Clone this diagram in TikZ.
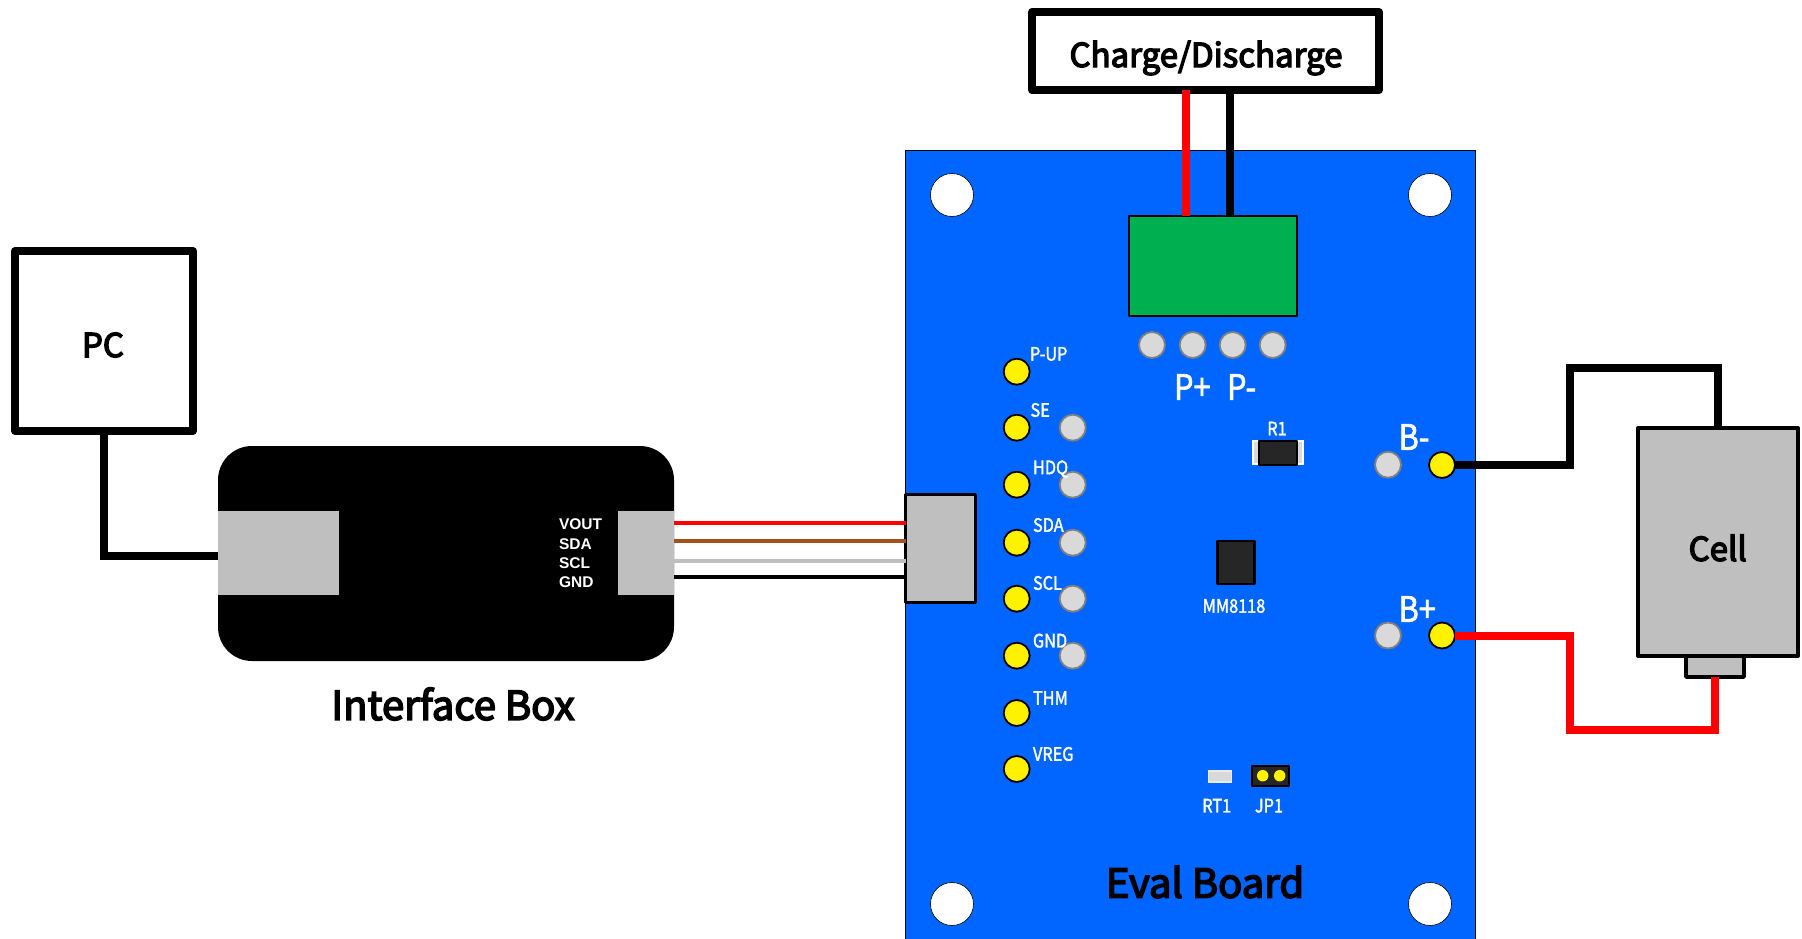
\documentclass[tikz,border=0pt]{standalone}
\usepackage{fontspec}
\setmainfont{Noto Sans CJK JP}
\newfontfamily\arialf{Liberation Sans}
\newfontfamily\heavyf[FakeBold=4]{Noto Sans CJK JP}
\newfontfamily\silkf[FakeBold=2]{Noto Sans CJK JP}
\definecolor{boardblue}{HTML}{0066FF}
\definecolor{pcbgreen}{HTML}{00B050}
\definecolor{boxgray}{HTML}{BFBFBF}
\definecolor{padgray}{HTML}{D9D9D9}
\definecolor{icdark}{HTML}{262626}
\definecolor{wirebrown}{HTML}{A0521A}
\tikzset{
  rectbox/.style={draw=black,rectangle,inner sep=0pt,outer sep=0pt,line join=round},
  bigtext/.style={font=\heavyf\fontsize{33}{33}\selectfont,text=black,inner sep=0pt,outer sep=0pt},
  silk/.style={font=\silkf\fontsize{18.5}{18.5}\selectfont,text=white,inner sep=0pt,outer sep=0pt,xscale=.88},
  silkbig/.style={font=\silkf\fontsize{35}{35}\selectfont,text=white,inner sep=0pt,outer sep=0pt,xscale=.88,anchor=west},
  boxlabel/.style={font=\arialf\fontsize{15.5}{15.5}\selectfont\bfseries,text=white,anchor=west,inner sep=0pt,outer sep=0pt},
  ypad/.style={circle,draw=black,fill=yellow,line width=1.8pt,minimum size=26pt,inner sep=0pt,outer sep=0pt},
  gpad/.style={circle,draw=gray,fill=padgray,line width=1.8pt,minimum size=26pt,inner sep=0pt,outer sep=0pt},
  hole/.style={circle,draw=black,fill=white,line width=.6pt,minimum size=43pt,inner sep=0pt,outer sep=0pt},
  wirefat/.style={line width=8pt,line join=miter},
  wirethin/.style={line width=4pt},
}
\begin{document}
\begin{tikzpicture}[x=1pt,y=-1pt]
\useasboundingbox (0,0) rectangle (1802,939);
\fill[white] (0,0) rectangle (1802,939);
% board
\node[rectangle,draw=black,line width=.8pt,fill=boardblue,minimum width=570pt,minimum height=800pt,inner sep=0pt,outer sep=0pt] (board) at (1190.5,550) {};
\fill[white] (0,939) rectangle (1802,960);
\useasboundingbox (0,0) rectangle (1802,939);
% boxes
\node[rectbox,line width=8pt,fill=white,minimum width=347pt,minimum height=78pt] (charge) at (1205.5,51) {};
\node[bigtext] at (1206,58) {Charge/Discharge};
\node[rectbox,line width=8pt,fill=white,minimum width=178pt,minimum height=180pt] (pc) at (104,341) {};
\node[bigtext] at (103,345) {PC};
\node[rectangle,fill=black,rounded corners=34pt,minimum width=456pt,minimum height=215pt,inner sep=0pt,outer sep=0pt] (ifbox) at (446,553.5) {};
\node[rectangle,fill=boxgray,minimum width=121pt,minimum height=84pt,inner sep=0pt,outer sep=0pt] (ifleft) at (278.5,553) {};
\node[rectangle,fill=boxgray,minimum width=56pt,minimum height=84pt,inner sep=0pt,outer sep=0pt] (ifright) at (646,553) {};
\node[bigtext,font=\heavyf\fontsize{40}{40}\selectfont] at (453,704) {Interface Box};
\node[boxlabel] at (559,524.5) {VOUT};
\node[boxlabel] at (559,544) {SDA};
\node[boxlabel] at (559,563) {SCL};
\node[boxlabel] at (559,582.5) {GND};
\node[rectbox,line width=3pt,fill=boxgray,minimum width=70pt,minimum height=108pt] (conn) at (940.5,548) {};
% green terminal
\node[rectbox,line width=2pt,fill=pcbgreen,minimum width=168pt,minimum height=100pt] (green) at (1213,266) {};
% holes
\node[hole] (h1) at (952,195) {};
\node[hole] (h2) at (1430,195) {};
\node[hole] (h3) at (952,904) {};
\node[hole] (h4) at (1430,904) {};
% terminal pads
\node[gpad] (t1) at (1152,345) {};
\node[gpad] (t2) at (1192.7,345) {};
\node[gpad] (t3) at (1232.7,345) {};
\node[gpad] (t4) at (1272.7,345) {};
\node[silkbig] at (1174,387) {P+};
\node[silkbig] at (1227,387) {P-};
% left pads
\node[ypad] (pup) at (1016.7,371.7) {};
\node[ypad] (se) at (1016.7,427.7) {};
\node[ypad] (hdq) at (1016.7,484.7) {};
\node[ypad] (sda) at (1016.7,542.7) {};
\node[ypad] (scl) at (1016.7,598.7) {};
\node[ypad] (gnd) at (1016.7,655.7) {};
\node[ypad] (thm) at (1016.7,713) {};
\node[ypad] (vreg) at (1016.7,769) {};
\node[gpad] (gse) at (1072.7,427.7) {};
\node[gpad] (ghdq) at (1072.7,484.7) {};
\node[gpad] (gsda) at (1072.7,542.7) {};
\node[gpad] (gscl) at (1072.7,598.7) {};
\node[gpad] (ggnd) at (1072.7,655.7) {};
\node[silk,anchor=west] at (1030,354) {P-UP};
\node[silk,anchor=west] at (1030.5,410) {SE};
\node[silk,anchor=west] at (1033,469) {HDQ};
\node[silk,anchor=west] at (1033,525) {SDA};
\node[silk,anchor=west] at (1033,583) {SCL};
\node[silk,anchor=west] at (1033,640.7) {GND};
\node[silk,anchor=west] at (1033,698) {THM};
\node[silk,anchor=west] at (1033,754) {VREG};
% R1
\node[rectangle,fill=padgray,draw=white,line width=1.5pt,minimum width=50pt,minimum height=23pt,inner sep=0pt,outer sep=0pt] (r1pads) at (1278,452.7) {};
\node[rectbox,line width=2pt,fill=icdark,minimum width=38pt,minimum height=24pt] (r1) at (1278,452.7) {};
\node[silk] at (1277,428.5) {R1};
% IC
\node[rectbox,line width=2.5pt,fill=icdark,minimum width=37pt,minimum height=43pt] (ic) at (1235.8,562.7) {};
\node[silk] at (1234,606) {MM8118};
% RT1, JP1
\node[rectangle,fill=padgray,draw=white!92!black,line width=1.5pt,minimum width=23pt,minimum height=11pt,inner sep=0pt,outer sep=0pt] (rt) at (1219.8,776.5) {};
\node[silk] at (1216.7,805.7) {RT1};
\node[rectbox,line width=2pt,fill=icdark,minimum width=37pt,minimum height=20pt] (jp) at (1270.8,775.5) {};
\node[circle,fill=yellow,minimum size=11.5pt,inner sep=0pt] (jp1) at (1262.7,775.7) {};
\node[circle,fill=yellow,minimum size=11.5pt,inner sep=0pt] (jp2) at (1279.7,775.7) {};
\node[silk] at (1269,805.7) {JP1};
% battery pads
\node[silkbig] at (1398.5,437) {B-};
\node[silkbig] at (1398.5,609) {B+};
\node[gpad] (gbm) at (1388,464.7) {};
\node[gpad] (gbp) at (1388,635.5) {};
\node[bigtext,font=\heavyf\fontsize{40}{40}\selectfont] at (1205,882) {Eval Board};
% cell
\node[rectbox,line width=3.5pt,fill=boxgray,minimum width=58pt,minimum height=24pt] (tab) at (1715,665) {};
\node[rectbox,line width=4pt,fill=boxgray,minimum width=160pt,minimum height=228pt] (cell) at (1718,542) {};
\node[bigtext] at (1717.7,548) {Cell};
% wire helpers
\coordinate (xcr) at (1185.5,0);
\coordinate (xcb) at (1230,0);
\coordinate (y1) at (0,522.7);
\coordinate (y2) at (0,541);
\coordinate (y3) at (0,560.5);
\coordinate (y4) at (0,577);
\coordinate (ypc) at (0,556);
\coordinate (xbat) at (1570,0);
\coordinate (ytop) at (0,368);
\coordinate (ybot) at (0,730);
% yellow battery pads
\node[ypad] (bm) at (1442,465) {};
\node[ypad] (bp) at (1442,635.5) {};
% connectors
\draw[wirefat,red] (charge.south -| xcr) -- (green.north -| xcr);
\draw[wirefat,black] (charge.south -| xcb) -- (green.north -| xcb);
\draw[wirefat,black] (pc.south) |- (ifleft.west |- ypc);
\draw[wirethin,red] (ifright.east |- y1) -- (conn.west |- y1);
\draw[wirethin,wirebrown] (ifright.east |- y2) -- (conn.west |- y2);
\draw[wirethin,boxgray] (ifright.east |- y3) -- (conn.west |- y3);
\draw[wirethin,black] (ifright.east |- y4) -- (conn.west |- y4);
\draw[wirefat,black] (bm.east) -- (bm.east -| xbat) -- (xbat |- ytop) -- (cell.north |- ytop) -- (cell.north);
\draw[wirefat,red] (bp.east) -- (bp.east -| xbat) -- (xbat |- ybot) -- (tab.south |- ybot) -- (tab.south);
\end{tikzpicture}
\end{document}
